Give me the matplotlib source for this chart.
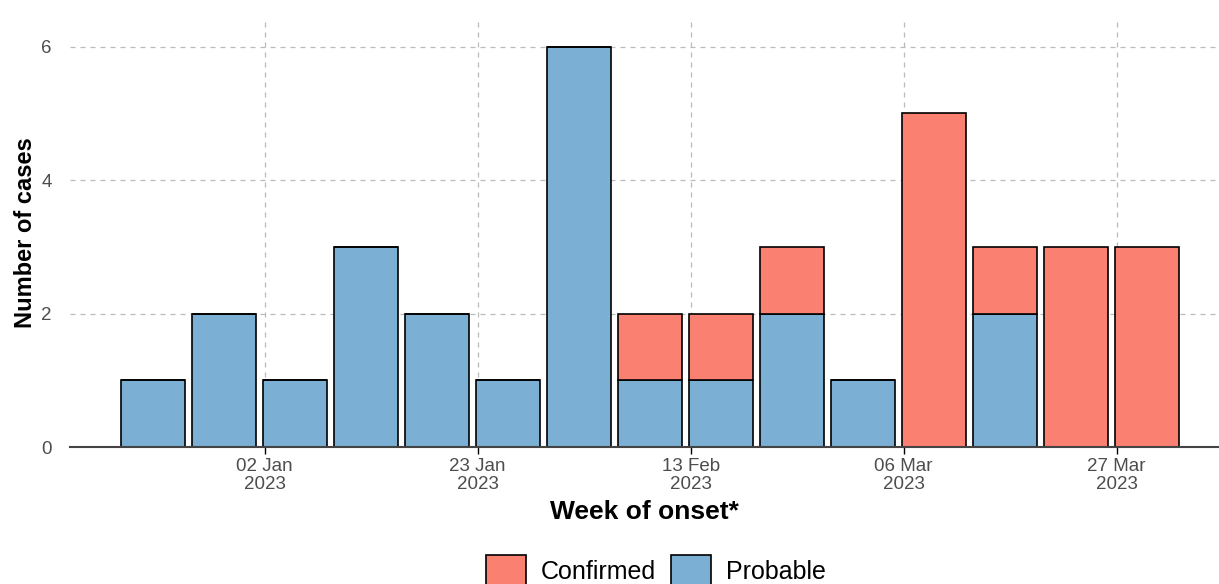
import numpy as np
import pandas as pd
import matplotlib
matplotlib.use("Agg")
import matplotlib.pyplot as plt
import matplotlib.dates as mdates
from matplotlib.patches import Patch

plt.rcParams["font.family"] = ["Liberation Sans", "DejaVu Sans"]

# ── 数据 ──
week_start = pd.date_range("2022-12-19", periods=15, freq="7D")
probable = [1, 2, 1, 3, 2, 1, 6, 1, 1, 2, 1, 0, 2, 0, 0]
confirmed = [0, 0, 0, 0, 0, 0, 0, 1, 1, 1, 0, 5, 1, 3, 3]
tick_dates = pd.to_datetime(["2023-01-02", "2023-01-23", "2023-02-13", "2023-03-06", "2023-03-27"])

col_conf = "#FA8072"
col_prob = "#7BAFD4"

fig = plt.figure(figsize=(12.19, 5.84), dpi=100)
ax = fig.add_axes([70 / 1219, (584 - 447) / 584, 1 - 70 / 1219, (447 - 18) / 584])

x = mdates.date2num(week_start) + 3
ax.bar(x, probable, width=6.3, color=col_prob, edgecolor="black", linewidth=1.2, zorder=3)
ax.bar(x, confirmed, width=6.3, bottom=probable, color=col_conf, edgecolor="black",
       linewidth=1.2, zorder=3)

x0 = mdates.date2num(pd.Timestamp("2023-01-02"))
ax.set_xlim(x0 - 19.2, x0 + 94.1)
ax.set_ylim(0, 6.43)

ax.set_xticks(mdates.date2num(tick_dates))
ax.set_xticklabels([d.strftime("%d %b\n%Y") for d in tick_dates], linespacing=1.05)
ax.set_yticks([0, 2, 4, 6])
ax.tick_params(axis="x", length=5, width=1, color="black", labelsize=13.5,
               labelcolor="#4D4D4D", pad=3)
ax.tick_params(axis="y", length=0, labelsize=13.5, labelcolor="#4D4D4D", pad=13)

ax.grid(True, color="#BBBBBB", linestyle=(0, (4, 4)), linewidth=0.9, zorder=0)
for s in ["top", "right", "left"]:
    ax.spines[s].set_visible(False)
ax.spines["bottom"].set_color("#444444")
ax.spines["bottom"].set_linewidth(1.5)
ax.spines["bottom"].set_zorder(4)

ax.set_xlabel("Week of onset*", fontsize=19, fontweight="bold", labelpad=5)
ax.set_ylabel("Number of cases", fontsize=17, fontweight="bold", labelpad=3)

handles = [Patch(facecolor=col_conf, edgecolor="black", linewidth=1.2, label="Confirmed"),
           Patch(facecolor=col_prob, edgecolor="black", linewidth=1.2, label="Probable")]
fig.legend(handles=handles, loc="center", bbox_to_anchor=(0.538, 0.022), ncol=2,
           frameon=False, fontsize=18, handlelength=1.6, handleheight=1.6,
           handletextpad=0.6, columnspacing=0.6)

fig.savefig("out.png", dpi=100)
